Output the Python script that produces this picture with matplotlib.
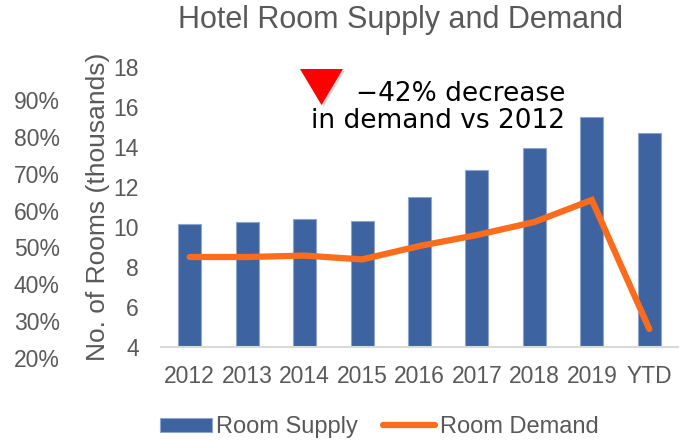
import numpy as np
import matplotlib.pyplot as plt
from matplotlib.patches import Polygon
from matplotlib.ticker import FuncFormatter

# ---- data ----
years = ['2012', '2013', '2014', '2015', '2016', '2017', '2018', '2019', 'YTD']
room_supply = [10.13, 10.25, 10.39, 10.3, 11.5, 12.85, 13.97, 15.48, 14.68]
room_demand = [8.5, 8.5, 8.57, 8.38, 9.05, 9.6, 10.25, 11.35, 4.9]
pct_ticks = [20, 30, 40, 50, 60, 70, 80, 90]
room_ticks = [4, 6, 8, 10, 12, 14, 16, 18]

GRAY = '#595959'
BLUE = '#3d64a0'
ORANGE = '#fd6c1c'
plt.rcParams['font.family'] = ['Liberation Sans', 'DejaVu Sans']

W, H = 690, 440
fig = plt.figure(figsize=(W / 100, H / 100), dpi=100)

# stray percent scale (sits a bit lower than the rooms axis, as in the source)
ax2 = fig.add_axes([161 / W, 1 - 362 / H, 517 / W, 295 / H])
ax2.set_ylim(18.91, 98.95)
ax2.set_yticks(pct_ticks)
ax2.yaxis.set_major_formatter(FuncFormatter(lambda v, p: f'{v:.0f}%'))
ax2.tick_params(axis='y', length=0, pad=73, labelsize=16.5, colors=GRAY)
ax2.set_xticks([])
ax2.patch.set_visible(False)
for s in ax2.spines.values():
    s.set_visible(False)

ax = fig.add_axes([161 / W, 1 - 347 / H, 517 / W, 280 / H])
ax.patch.set_visible(False)

x = np.arange(len(years))
bars = ax.bar(x, room_supply, width=0.4, color=BLUE, edgecolor='#8ea6cf',
              linewidth=0.8, label='Room Supply', zorder=2)
line, = ax.plot(x, room_demand, color=ORANGE, linewidth=4.5,
                solid_capstyle='round', solid_joinstyle='miter',
                label='Room Demand', zorder=3)

ax.set_xlim(-0.5, len(years) - 0.5)
ax.set_ylim(4, 18)
ax.set_xticks(x, years)
ax.set_yticks(room_ticks)
ax.tick_params(axis='x', length=0, pad=13, labelsize=16.5, colors=GRAY)
ax.tick_params(axis='y', length=0, pad=16, labelsize=16.5, colors=GRAY)
for s in ['top', 'right', 'left']:
    ax.spines[s].set_visible(False)
ax.spines['bottom'].set_color('#d9d9d9')
ax.spines['bottom'].set_linewidth(1.5)

ax.set_ylabel('No. of Rooms (thousands)', fontsize=19, color=GRAY)
ax.yaxis.set_label_coords((110 - 161) / 517, 0.5)

fig.text(400 / W, 1 - 28 / H, 'Hotel Room Supply and Demand', ha='center',
         va='baseline', fontsize=22, color=GRAY)

# annotation: red triangle and note
def px(xp, yp):
    return (xp / W, 1 - yp / H)

shadow = Polygon([px(302, 71), px(345, 71), px(323.5, 107)], closed=True,
                 transform=fig.transFigure, facecolor='#000000', alpha=0.15,
                 edgecolor='none')
tri = Polygon([px(300, 69), px(343, 69), px(321.5, 105)], closed=True,
              transform=fig.transFigure, facecolor='#ff0000', edgecolor='none')
fig.add_artist(shadow)
fig.add_artist(tri)
fig.text(565 / W, 1 - 101 / H, '\u221242% decrease', ha='right', va='baseline',
         fontsize=19, color='black', family='DejaVu Sans')
fig.text(565 / W, 1 - 128 / H, 'in demand vs 2012', ha='right', va='baseline',
         fontsize=19, color='black', family='DejaVu Sans')

fig.legend([bars, line], ['Room Supply', 'Room Demand'], loc='center',
           bbox_to_anchor=(379 / W, 1 - 427 / H), ncol=2,
           frameon=False, fontsize=17, handlelength=2.2, handleheight=0.55,
           handletextpad=0.2, columnspacing=1.05, labelcolor=GRAY)

fig.savefig('out.png', dpi=100)
